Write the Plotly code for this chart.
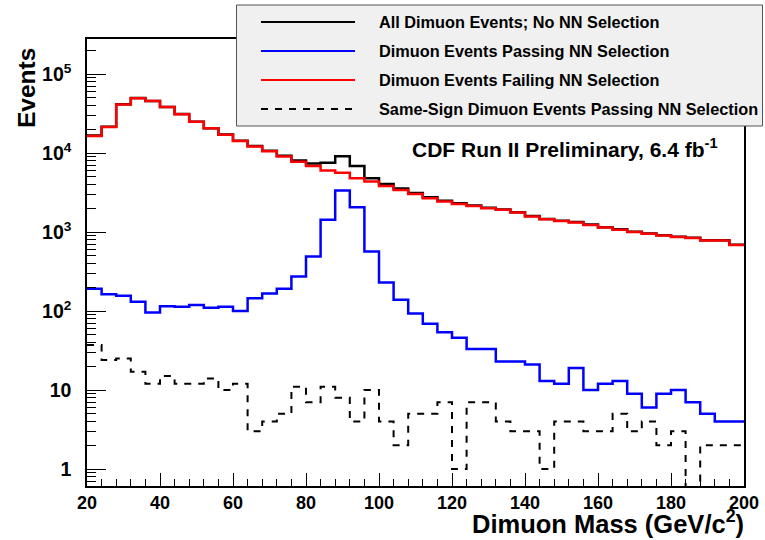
import plotly.graph_objects as go

# ---- data (4 GeV bins from 20 to 200 GeV/c^2) ----
bin_edges = list(range(20, 204, 4))

all_events = [16600, 21460, 41360, 49530, 45500, 38220, 31110, 24920, 20610, 17110,
              14300, 12250, 10670, 9240, 8040, 7380, 7500, 9100, 6850, 4800,
              4060, 3550, 3120, 2750, 2480, 2320, 2160, 2030, 1930, 1780,
              1590, 1460, 1390, 1340, 1240, 1150, 1080, 1007, 955, 913,
              872, 845, 786, 785, 688]

passing = [192, 163, 156, 131, 96, 115, 113, 119, 110, 113,
           100, 145, 166, 192, 274, 491, 1426, 3343, 2060, 568,
           230, 139, 93, 69, 54, 46, 33, 33, 23, 23,
           21, 13, 12, 19, 10, 12, 13, 9, 6, 9,
           10, 7, 5, 4, 4]

failing = [16400, 21300, 41200, 49400, 45400, 38100, 31000, 24800, 20500, 17000,
           14200, 12100, 10500, 9050, 7770, 6850, 5990, 5640, 4790, 4350,
           3830, 3410, 3030, 2680, 2430, 2270, 2130, 2000, 1910, 1760,
           1570, 1450, 1380, 1320, 1230, 1140, 1070, 998, 949, 904,
           862, 838, 781, 781, 684]

same_sign = [37, 24, 25, 17, 12, 15, 12, 12, 14, 10,
             12, 3, 4, 5, 11, 7, 11, 8, 4, 10,
             4, 2, 5, 5, 7, 1, 7, 7, 4, 3,
             3, 1, 4, 4, 3, 3, 5, 3, 4, 2,
             3, 0, 2, 2, 2]

legend_labels = ["All Dimuon Events; No NN Selection",
                 "Dimuon Events Passing NN Selection",
                 "Dimuon Events Failing NN Selection",
                 "Same-Sign Dimuon Events Passing NN Selection"]

y_tickvals = [1, 10, 100, 1000, 10000, 100000]
y_ticktext = ["1", "10", "10<sup>2</sup>", "10<sup>3</sup>", "10<sup>4</sup>", "10<sup>5</sup>"]
x_tickvals = list(range(20, 220, 20))

FONT = "Liberation Sans, Arial, Helvetica, sans-serif"

# plot area in pixels
W, H = 765, 540
L, R, T, B = 87, 21, 39, 54
PW, PH = W - L - R, H - T - B


def px(x):
    return (x - L) / PW


def py(y):
    return (H - B - y) / PH


def step(vals):
    v = [val if val > 0 else 1e-3 for val in vals]  # empty bins drop below the axis
    return v + [v[-1]]


fig = go.Figure()
styles = [
    dict(color="black", width=2.5),
    dict(color="#0000ff", width=2.5),
    dict(color="#ff0000", width=2.5),
    dict(color="black", width=2, dash="7px,7px"),
]
series = [all_events, passing, failing, same_sign]
for vals, st, name in zip(series, styles, legend_labels):
    fig.add_trace(go.Scatter(x=bin_edges, y=step(vals), mode="lines",
                             line=dict(shape="hv", **st), name=name,
                             showlegend=False, hoverinfo="skip"))

fig.update_layout(
    width=W, height=H, autosize=False,
    margin=dict(l=L, r=R, t=T, b=B, pad=0, autoexpand=False),
    paper_bgcolor="white", plot_bgcolor="white",
    font=dict(family=FONT, color="black"),
    showlegend=False,
)
fig.update_xaxes(
    automargin=False,
    range=[20, 200], tickvals=x_tickvals, ticks="inside", ticklen=13, tickwidth=1,
    tickcolor="black", showline=True, linecolor="black", linewidth=1.5, mirror=True,
    showgrid=False, zeroline=False,
    tickfont=dict(family=FONT, size=18, weight="bold"), ticklabelstandoff=0,
    minor=dict(dtick=4, ticks="inside", ticklen=7, tickcolor="black", tickwidth=1, showgrid=False),
)
fig.update_yaxes(
    automargin=False,
    type="log", range=[-0.215, 5.443], tickvals=y_tickvals, ticktext=y_ticktext,
    ticks="inside", ticklen=19, tickwidth=1, tickcolor="black",
    showline=True, linecolor="black", linewidth=1.5, mirror=True,
    showgrid=False, zeroline=False,
    tickfont=dict(family=FONT, size=19.5, weight="bold"), ticklabelstandoff=10,
    minor=dict(dtick="D1", ticks="inside", ticklen=9, tickcolor="black", tickwidth=1, showgrid=False),
)

shapes = []
annotations = []
# legend box
shapes.append(dict(type="rect", xref="paper", yref="paper", layer="above",
                   x0=px(236.5), x1=px(762.5), y0=py(126), y1=py(5),
                   fillcolor="#f0f0f0", line=dict(color="#555555", width=1)))
rows = [22, 51, 80, 109]
for st, label, yy in zip(styles, legend_labels, rows):
    shapes.append(dict(type="line", xref="paper", yref="paper", layer="above",
                       x0=px(261), x1=px(355), y0=py(yy), y1=py(yy),
                       line=dict(color=st["color"], width=2,
                                 dash=st.get("dash", "solid"))))
    annotations.append(dict(text=label, xref="paper", yref="paper", x=px(377), y=py(yy),
                            xanchor="left", yanchor="middle", showarrow=False,
                            font=dict(family=FONT, size=16.3, weight="bold", color="black")))

annotations.append(dict(text="CDF Run II Preliminary, 6.4 fb<sup>-1</sup>", xref="paper", yref="paper",
                        x=px(410), y=py(148), xanchor="left", yanchor="middle", showarrow=False,
                        font=dict(family=FONT, size=21, weight="bold", color="black")))
annotations.append(dict(text="Events", xref="paper", yref="paper", x=px(26), y=py(88),
                        xanchor="center", yanchor="middle", textangle=-90, showarrow=False,
                        font=dict(family=FONT, size=24.5, weight="bold", color="black")))
annotations.append(dict(text="Dimuon Mass (GeV/c<sup>2</sup>)", xref="paper", yref="paper",
                        x=px(746), y=py(522), xanchor="right", yanchor="middle", showarrow=False,
                        font=dict(family=FONT, size=25.5, weight="bold", color="black")))

fig.update_layout(shapes=shapes, annotations=annotations)
fig.write_html("out.html")
